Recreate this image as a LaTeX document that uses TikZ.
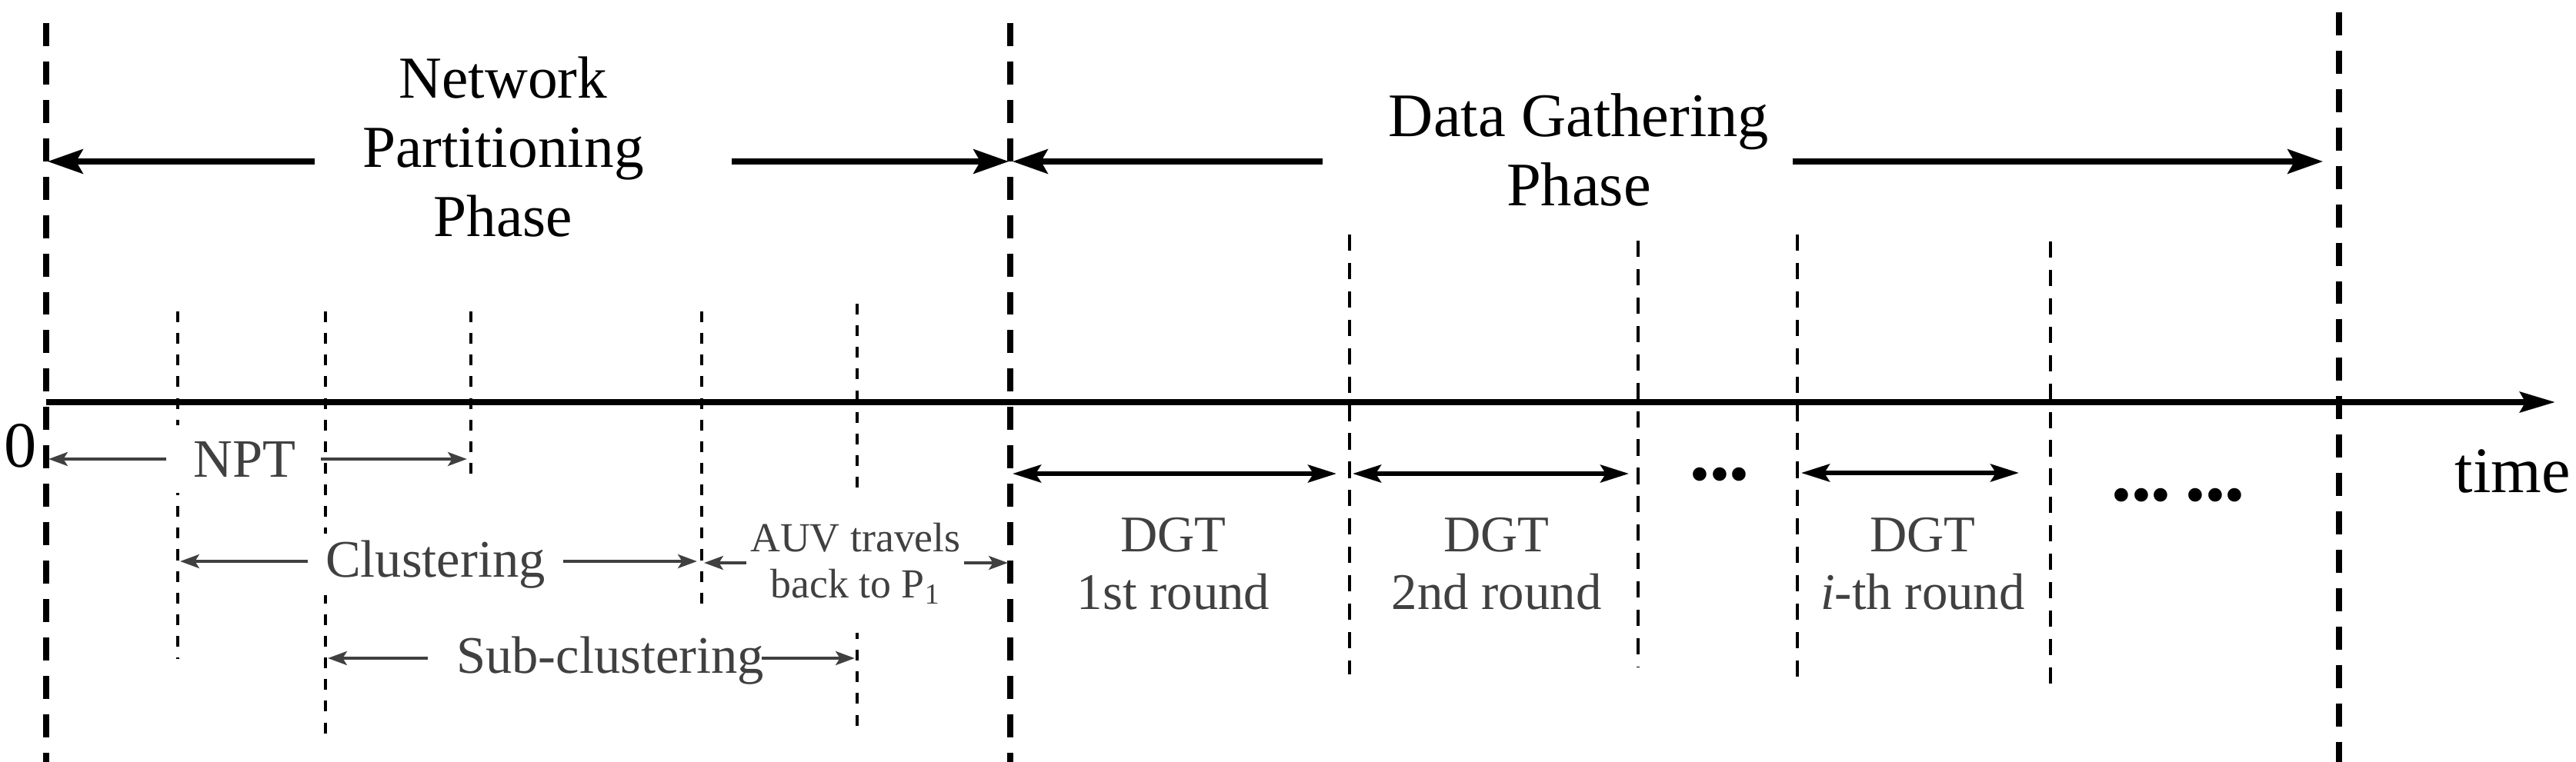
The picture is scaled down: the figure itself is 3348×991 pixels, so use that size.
\documentclass[tikz,border=0pt]{standalone}
\usepackage{fontspec}
\setmainfont{Liberation Serif}
\usetikzlibrary{arrows.meta}
\definecolor{labgray}{gray}{0.25}
\begin{document}
\begin{tikzpicture}[x=0.01cm,y=-0.01cm,
  bigdash/.style={line width=2.1pt, dash pattern=on 8.5pt off 5.7pt},
  thindash/.style={line width=1.3pt, dash pattern=on 4pt off 4pt},
  dgdash/.style={line width=1.3pt, dash pattern=on 6pt off 4.5pt},
  phasearrow/.style={line width=2pt, -{Stealth[length=13pt,width=9pt,inset=2.5pt]}},
  timearrow/.style={line width=2.2pt, -{Stealth[length=13pt,width=7.5pt,inset=2pt]}},
  dgtarrow/.style={line width=1.7pt, {Stealth[length=10.5pt,width=6.5pt,inset=2pt]}-{Stealth[length=10.5pt,width=6.5pt,inset=2pt]}},
  thinarrow/.style={line width=1.4pt, draw=labgray, -{Stealth[length=7pt,width=5pt,inset=1.5pt]}},
  bigtext/.style={font=\fontsize{22}{25.6}\selectfont, align=center, inner sep=0pt},
  labtext/.style={font=\fontsize{19.5}{21}\selectfont, text=labgray, inner sep=0pt},
  dgttext/.style={font=\fontsize{19}{21.3}\selectfont, text=labgray, align=center, inner sep=0pt},
  axtext/.style={font=\fontsize{24}{28}\selectfont, inner sep=0pt},
  dotstext/.style={font=\fontsize{21}{24}\selectfont, inner sep=0pt}
]
\useasboundingbox (0,0) rectangle (3348,991);

% big dashed phase boundaries
\coordinate (b1t) at (60,30);   \coordinate (b1b) at (60,991);
\coordinate (b2t) at (1313,30); \coordinate (b2b) at (1313,991);
\coordinate (b3t) at (3040,16); \coordinate (b3b) at (3040,991);
\draw[bigdash] (b1t) -- (b1b);
\draw[bigdash] (b2t) -- (b2b);
\draw[bigdash] (b3t) -- (b3b);

% thin dashed lines, partitioning phase
\coordinate (p1t) at (231,405);  \coordinate (p1b) at (231,857);
\coordinate (p2t) at (423,405);  \coordinate (p2b) at (423,960);
\coordinate (p3t) at (612,405);  \coordinate (p3b) at (612,622);
\coordinate (p4t) at (912,405);  \coordinate (p4b) at (912,790);
\coordinate (p5t) at (1114,395); \coordinate (p5b) at (1114,953);
\draw[thindash] (p1t) -- (p1b);
\draw[thindash] (p2t) -- (p2b);
\draw[thindash] (p3t) -- (p3b);
\draw[thindash] (p4t) -- (p4b);
\draw[thindash] (p5t) -- (p5b);

% thin dashed lines, data gathering phase
\coordinate (d1t) at (1754,305); \coordinate (d1b) at (1754,877);
\coordinate (d2t) at (2129,313); \coordinate (d2b) at (2129,867);
\coordinate (d3t) at (2336,305); \coordinate (d3b) at (2336,888);
\coordinate (d4t) at (2665,314); \coordinate (d4b) at (2665,892);
\draw[dgdash] (d1t) -- (d1b);
\draw[dgdash] (d2t) -- (d2b);
\draw[dgdash] (d3t) -- (d3b);
\draw[dgdash] (d4t) -- (d4b);

% time axis
\coordinate (t0) at (60,523); \coordinate (tend) at (3321,523);
\draw[timearrow] (t0) -- (tend);
\node[axtext, anchor=base] (zero) at (27,607) {0};
\node[axtext, anchor=base west] (time) at (3190,640) {time};

% phase labels
\node[bigtext] (npp) at (654,191) {Network\\Partitioning\\Phase};
\node[bigtext, font=\fontsize{22.9}{25.6}\selectfont] (dgp) at (2052,195) {Data Gathering\\Phase};
\coordinate (npL1) at (409,210);  \coordinate (npL2) at (62,210);
\coordinate (npR1) at (951,210);  \coordinate (npR2) at (1311,210);
\coordinate (dgL1) at (1719,210); \coordinate (dgL2) at (1316,210);
\coordinate (dgR1) at (2330,210); \coordinate (dgR2) at (3019,210);
\draw[phasearrow] (npL1) -- (npL2);
\draw[phasearrow] (npR1) -- (npR2);
\draw[phasearrow] (dgL1) -- (dgL2);
\draw[phasearrow] (dgR1) -- (dgR2);

% partitioning sub-intervals
\node[labtext, font=\fontsize{20}{22}\selectfont, anchor=base, fill=white, minimum width=1.95cm, inner ysep=6pt] (npt) at (318,620) {NPT};
\coordinate (nptL1) at (216,597); \coordinate (nptL2) at (63,597);
\coordinate (nptR1) at (417,597); \coordinate (nptR2) at (607,597);
\draw[thinarrow] (nptL1) -- (nptL2);
\draw[thinarrow] (nptR1) -- (nptR2);

\node[labtext, anchor=base, fill=white, minimum width=3.3cm, inner ysep=2.5pt] (clu) at (566,750) {Clustering};
\coordinate (cluL1) at (400,730); \coordinate (cluL2) at (234,730);
\coordinate (cluR1) at (732,730); \coordinate (cluR2) at (906,730);
\draw[thinarrow] (cluL1) -- (cluL2);
\draw[thinarrow] (cluR1) -- (cluR2);

\node[labtext, font=\fontsize{15.3}{17.1}\selectfont, align=center, fill=white, minimum width=2.83cm, minimum height=1.8cm] (auv) at (1112,733) {AUV travels\\back to P\textsubscript{1}};
\coordinate (auvL1) at (970,732);  \coordinate (auvL2) at (915,732);
\coordinate (auvR1) at (1253,732); \coordinate (auvR2) at (1310,732);
\draw[thinarrow] (auvL1) -- (auvL2);
\draw[thinarrow] (auvR1) -- (auvR2);

\node[labtext, anchor=base] (sub) at (793,875) {Sub-clustering};
\coordinate (subL1) at (556,856); \coordinate (subL2) at (426,856);
\coordinate (subR1) at (990,856); \coordinate (subR2) at (1111,856);
\draw[thinarrow] (subL1) -- (subL2);
\draw[thinarrow] (subR1) -- (subR2);

% data gathering rounds
\coordinate (g1a) at (1316,616); \coordinate (g1b) at (1737,616);
\coordinate (g2a) at (1758,616); \coordinate (g2b) at (2117,616);
\coordinate (g3a) at (2341,615); \coordinate (g3b) at (2624,615);
\draw[dgtarrow] (g1a) -- (g1b);
\draw[dgtarrow] (g2a) -- (g2b);
\draw[dgtarrow] (g3a) -- (g3b);
\node[dgttext] (dgt1) at (1525,733) {DGT\\1st round};
\node[dgttext] (dgt2) at (1945,733) {DGT\\2nd round};
\node[dgttext] (dgt3) at (2499,733) {DGT\\\textit{i}-th round};
\node[dotstext] (dots1) at (2235,625) {•••};
\node[dotstext] (dots2) at (2831,652) {••• •••};
\end{tikzpicture}
\end{document}
